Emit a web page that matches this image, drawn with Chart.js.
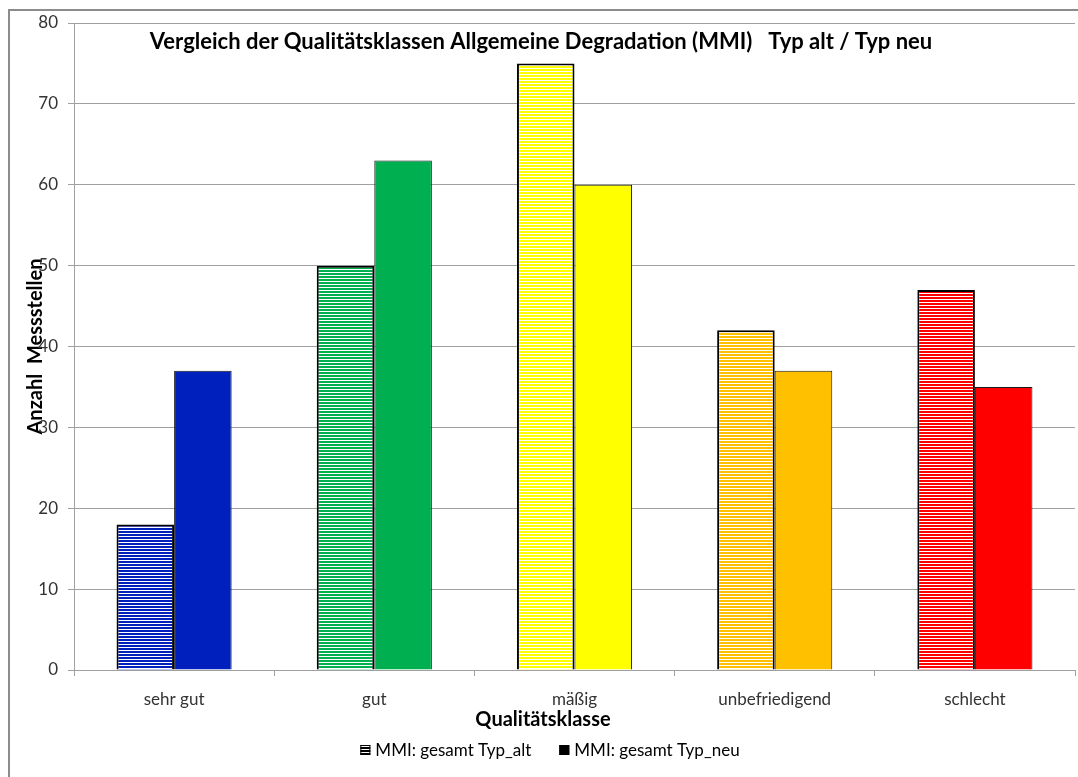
<!DOCTYPE html>
<html>
<head>
<meta charset="utf-8">
<script src="https://cdn.jsdelivr.net/npm/chart.js@4.4.1/dist/chart.umd.min.js"></script>
<style>
  html, body { margin: 0; padding: 0; background: #fff; overflow: hidden; }
  #wrap { position: relative; width: 1078px; height: 777px; }
  #frame { position: absolute; left: 8px; top: 9px; width: 1200px; height: 900px; border: 2px solid #8c8c8c; box-sizing: border-box; pointer-events: none; }
  canvas { position: absolute; left: 0; top: 0; }
</style>
</head>
<body>
<div id="wrap">
  <canvas id="chart" width="1078" height="777"></canvas>
  <div id="frame"></div>
</div>
<script>
  const categories = ['sehr gut', 'gut', 'mäßig', 'unbefriedigend', 'schlecht'];
  const altValues = [18, 50, 75, 42, 47];
  const neuValues = [37, 63, 60, 37, 35];
  const classColors = ['#0020bd', '#00b050', '#ffff00', '#ffc000', '#ff0000'];
  const yTicks = [0, 10, 20, 30, 40, 50, 60, 70, 80];
  const titleText = 'Vergleich der Qualitätsklassen Allgemeine Degradation (MMI)   Typ alt / Typ neu';
  const xTitle = 'Qualitätsklasse';
  const yTitle = 'Anzahl  Messstellen';
  const seriesNames = ['MMI: gesamt Typ_alt', 'MMI: gesamt Typ_neu'];

  const FONT = 'Lato, "Open Sans", sans-serif';

  function stripes(color) {
    const c = document.createElement('canvas');
    c.width = 4;
    c.height = 3;
    const g = c.getContext('2d');
    g.fillStyle = '#ffffff';
    g.fillRect(0, 0, 4, 3);
    g.fillStyle = color;
    g.fillRect(0, 0, 4, 2);
    return g.createPattern(c, 'repeat');
  }

  // title, x title and legend sit centred on the whole picture, not on the plot
  const textPlugin = {
    id: 'outerTexts',
    afterDraw(chart) {
      const ctx = chart.ctx;
      ctx.save();
      ctx.fillStyle = '#000';
      ctx.textBaseline = 'middle';
      ctx.textAlign = 'center';
      ctx.font = 'bold 22px ' + FONT;
      ctx.fillText(titleText, 541, 42);
      ctx.font = 'bold 20px ' + FONT;
      ctx.fillText(xTitle, 543, 720);

      ctx.font = '17px ' + FONT;
      ctx.textAlign = 'left';
      const box = 10, gap = 5, space = 28;
      const w0 = ctx.measureText(seriesNames[0]).width;
      const w1 = ctx.measureText(seriesNames[1]).width;
      const total = box + gap + w0 + space + box + gap + w1;
      let x = 550 - total / 2;
      const y = 750;
      const fills = [stripes('#000'), '#000'];
      seriesNames.forEach((name, i) => {
        ctx.fillStyle = fills[i];
        ctx.fillRect(x, y - box / 2, box, box);
        ctx.strokeStyle = '#000';
        ctx.lineWidth = 1;
        ctx.strokeRect(x + 0.5, y - box / 2 + 0.5, box - 1, box - 1);
        ctx.fillStyle = '#000';
        ctx.fillText(name, x + box + gap, y + 1);
        x += box + gap + (i === 0 ? w0 : w1) + space;
      });
      ctx.restore();
    },
  };

  const ctx = document.getElementById('chart');
  new Chart(ctx, {
    type: 'bar',
    data: {
      labels: categories,
      datasets: [
        {
          label: seriesNames[0],
          data: altValues,
          backgroundColor: classColors.map(stripes),
          borderColor: '#000',
          borderWidth: 2,
          categoryPercentage: 0.575,
          barPercentage: 1,
        },
        {
          label: seriesNames[1],
          data: neuValues,
          backgroundColor: classColors,
          borderColor: '#1a1a1a',
          borderWidth: 1,
          categoryPercentage: 0.575,
          barPercentage: 1,
        },
      ],
    },
    options: {
      responsive: false,
      animation: false,
      layout: { padding: { top: 23, right: 3, left: 0, bottom: 0 } },
      plugins: {
        title: { display: false },
        tooltip: { enabled: false },
        legend: { display: false },
      },
      scales: {
        x: {
          afterFit(scale) { scale.height = 107; },
          grid: { display: true, drawOnChartArea: false, offset: true, color: '#a0a0a0', tickLength: 6 },
          border: { color: '#a0a0a0' },
          ticks: { font: { family: FONT, size: 17 }, color: '#333', padding: 13 },
        },
        y: {
          min: 0,
          max: 80,
          afterBuildTicks(scale) { scale.ticks = yTicks.map((v) => ({ value: v })); },
          afterFit(scale) { scale.width = 74; },
          grid: { color: '#a0a0a0', tickLength: 6 },
          border: { color: '#a0a0a0' },
          ticks: { font: { family: FONT, size: 17 }, color: '#333', padding: 10 },
          title: { display: true, text: yTitle, font: { family: FONT, size: 20, weight: 'bold' }, color: '#000', padding: { top: 24, bottom: 0 } },
        },
      },
    },
    plugins: [textPlugin],
  });
</script>
</body>
</html>
